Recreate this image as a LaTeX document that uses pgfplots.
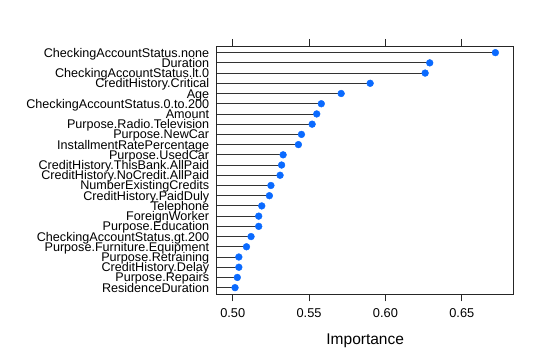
\documentclass[border=0pt]{standalone}
\usepackage{pgfplots}
\pgfplotsset{compat=1.18}
\usepackage{pgfplotstable}
\usepackage{fontspec}
\setmainfont{Liberation Sans}
\definecolor{dotblue}{HTML}{0A6AFF}
\pgfplotstableread{
y x
24 0.672
23 0.629
22 0.626
21 0.590
20 0.571
19 0.558
18 0.555
17 0.552
16 0.545
15 0.543
14 0.533
13 0.532
12 0.531
11 0.525
10 0.524
9 0.519
8 0.517
7 0.517
6 0.512
5 0.509
4 0.504
3 0.504
2 0.503
1 0.5015
}\datatable
\begin{document}
\begin{tikzpicture}[x=1pt,y=1pt]
\path[use as bounding box] (0,0) rectangle (545,362);
\begin{axis}[
  at={(216.7pt,67.7pt)}, anchor=south west,
  scale only axis, width=297pt, height=248.3pt,
  xmin=0.4895, xmax=0.684,
  ymin=0.35, ymax=24.65,
  xtick={0.50,0.55,0.60,0.65},
  xticklabels={0.50,0.55,0.60,0.65},
  tick align=outside, major tick length=7pt,
  xtick pos=both, xticklabel pos=bottom,
  ytick={1,...,24},
  yticklabels={ResidenceDuration,Purpose.Repairs,CreditHistory.Delay,Purpose.Retraining,Purpose.Furniture.Equipment,CheckingAccountStatus.gt.200,Purpose.Education,ForeignWorker,Telephone,CreditHistory.PaidDuly,NumberExistingCredits,CreditHistory.NoCredit.AllPaid,CreditHistory.ThisBank.AllPaid,Purpose.UsedCar,InstallmentRatePercentage,Purpose.NewCar,Purpose.Radio.Television,Amount,CheckingAccountStatus.0.to.200,Age,CreditHistory.Critical,CheckingAccountStatus.lt.0,Duration,CheckingAccountStatus.none},
  ytick style={draw=none},
  yticklabel style={font=\fontsize{12.6}{12}\selectfont, inner sep=0.3pt, text height=9pt, text depth=0pt},
  xticklabel style={font=\fontsize{12.8}{13}\selectfont, yshift=-4pt},
  xlabel={Importance},
  xlabel style={font=\fontsize{15.5}{16}\selectfont, yshift=-9pt},
  axis line style={line width=0.8pt, black!85},
  every tick/.style={line width=0.8pt, black!85},
  clip=true,
]
\addplot[xcomb, line width=0.9pt, black!80, mark=none] table[x=x,y=y] {\datatable};
\addplot[only marks, mark=*, mark size=3.4pt, color=dotblue, mark options={draw=dotblue, fill=dotblue}] table[x=x,y=y] {\datatable};
\end{axis}
\end{tikzpicture}
\end{document}
